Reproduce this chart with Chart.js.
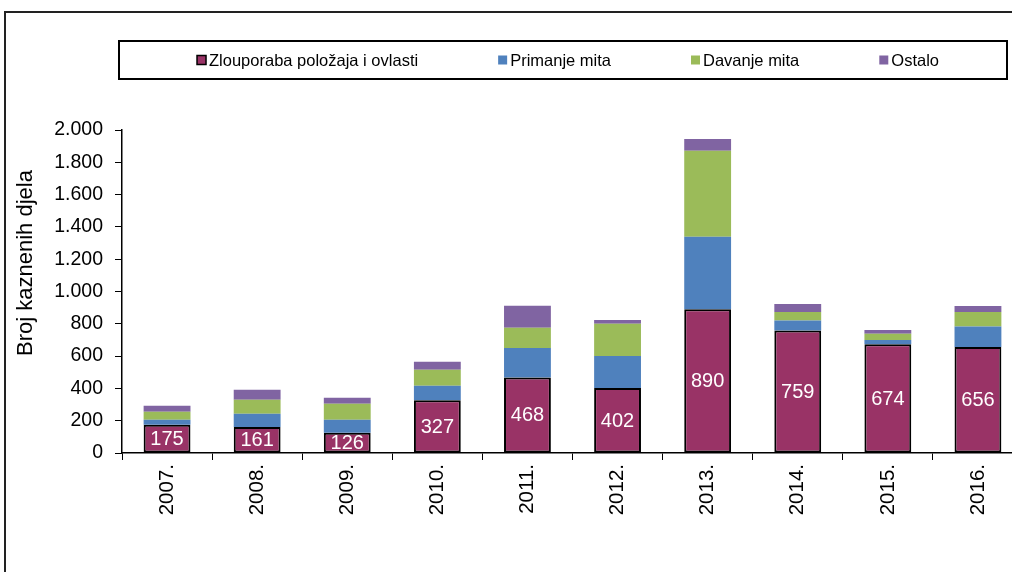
<!DOCTYPE html>
<html>
<head>
<meta charset="utf-8">
<script src="https://cdn.jsdelivr.net/npm/chart.js@4"></script>
<style>
  html, body { margin: 0; padding: 0; overflow: hidden; background: #fff; }
  canvas { display: block; }
</style>
</head>
<body>
<canvas id="kaznenaChart" width="1030" height="572"></canvas>
<script>
const years = ['2007.', '2008.', '2009.', '2010.', '2011.', '2012.', '2013.', '2014.', '2015.', '2016.'];
const zlouporaba = [175, 161, 126, 327, 468, 402, 890, 759, 674, 656];
const primanje = [31, 82, 80, 90, 182, 198, 449, 62, 25, 128];
const davanje = [50, 87, 99, 99, 126, 200, 532, 52, 39, 89];
const ostalo = [37, 62, 37, 49, 136, 23, 73, 49, 23, 37];
const seriesNames = ['Zlouporaba položaja i ovlasti', 'Primanje mita', 'Davanje mita', 'Ostalo'];
const yTitle = 'Broj kaznenih djela';

const FONT = '"Liberation Sans", Arial, sans-serif';

// frame round the whole chart, boxed legend, y title
const framePlugin = {
    id: 'frame',
    beforeDraw(chart) {
        const ctx = chart.ctx;
        ctx.save();
        ctx.strokeStyle = '#222';
        ctx.lineWidth = 2;
        ctx.strokeRect(5, 12, 2000, 2000);
        ctx.restore();
    },
    afterDraw(chart) {
        const ctx = chart.ctx;
        ctx.save();
        ctx.strokeStyle = '#000';
        ctx.lineWidth = 2;
        ctx.strokeRect(119, 41, 888, 38);

        ctx.font = '16.5px ' + FONT;
        ctx.textBaseline = 'middle';
        const gap = 80, box = 9, space = 3;
        const items = chart.data.datasets;
        const widths = items.map(d => box + space + ctx.measureText(d.label).width);
        const total = widths.reduce((a, b) => a + b, 0) + gap * (items.length - 1);
        let x = 568 - total / 2;
        const y = 60;
        items.forEach((d, i) => {
            ctx.fillStyle = d.backgroundColor;
            ctx.fillRect(x, y - box / 2, box, box);
            if (d.borderWidth) {
                ctx.strokeStyle = '#000';
                ctx.lineWidth = 1.5;
                ctx.strokeRect(x, y - box / 2, box, box);
            }
            ctx.fillStyle = '#000';
            ctx.fillText(d.label, x + box + space, y + 1);
            x += widths[i] + gap;
        });

        // axis title, sits a bit above the middle of the axis
        ctx.translate(26, 263);
        ctx.rotate(-Math.PI / 2);
        ctx.font = '22px ' + FONT;
        ctx.textAlign = 'center';
        ctx.fillText(yTitle, 0, 0);
        ctx.restore();
    }
};

// white value labels in the first series
const valueLabels = {
    id: 'valueLabels',
    afterDatasetsDraw(chart) {
        const ctx = chart.ctx;
        const meta = chart.getDatasetMeta(0);
        ctx.save();
        ctx.font = '20px ' + FONT;
        ctx.fillStyle = '#fff';
        ctx.textAlign = 'center';
        ctx.textBaseline = 'middle';
        meta.data.forEach((bar, i) => {
            ctx.fillText(String(zlouporaba[i]), bar.x, (bar.y + bar.base) / 2 + 1);
        });
        ctx.restore();
    }
};

const ctx = document.getElementById('kaznenaChart').getContext('2d');
new Chart(ctx, {
    type: 'bar',
    data: {
        labels: years,
        datasets: [{
            label: seriesNames[0],
            data: zlouporaba,
            backgroundColor: '#993366',
            borderColor: '#000',
            borderWidth: 2,
            borderSkipped: false
        }, {
            label: seriesNames[1],
            data: primanje,
            backgroundColor: '#4F81BD',
            borderWidth: 0
        }, {
            label: seriesNames[2],
            data: davanje,
            backgroundColor: '#9BBB59',
            borderWidth: 0
        }, {
            label: seriesNames[3],
            data: ostalo,
            backgroundColor: '#8064A2',
            borderWidth: 0
        }]
    },
    options: {
        responsive: false,
        animation: false,
        categoryPercentage: 1,
        barPercentage: 0.52,
        layout: {
            padding: { left: 12, top: 130, right: 7, bottom: 0 }
        },
        plugins: {
            legend: { display: false },
            tooltip: { enabled: false }
        },
        scales: {
            x: {
                stacked: true,
                afterFit(scale) { scale.height = 119; },
                grid: {
                    drawOnChartArea: false,
                    tickLength: 7,
                    tickColor: '#000',
                    offset: true
                },
                border: { color: '#000', width: 1.5 },
                ticks: {
                    color: '#000',
                    font: { family: FONT, size: 20.5 },
                    minRotation: 90,
                    maxRotation: 90,
                    padding: 4
                }
            },
            y: {
                stacked: true,
                min: 0,
                max: 2000,
                afterFit(scale) { scale.width = 110; },
                grid: {
                    drawOnChartArea: false,
                    tickLength: 7,
                    tickColor: '#000'
                },
                border: { color: '#000', width: 1.5 },
                ticks: {
                    stepSize: 200,
                    color: '#000',
                    padding: 12,
                    font: { family: FONT, size: 19.5 },
                    callback: v => v.toString().replace(/\B(?=(\d{3})+(?!\d))/g, '.')
                }
            }
        }
    },
    plugins: [framePlugin, valueLabels]
});
</script>
</body>
</html>
